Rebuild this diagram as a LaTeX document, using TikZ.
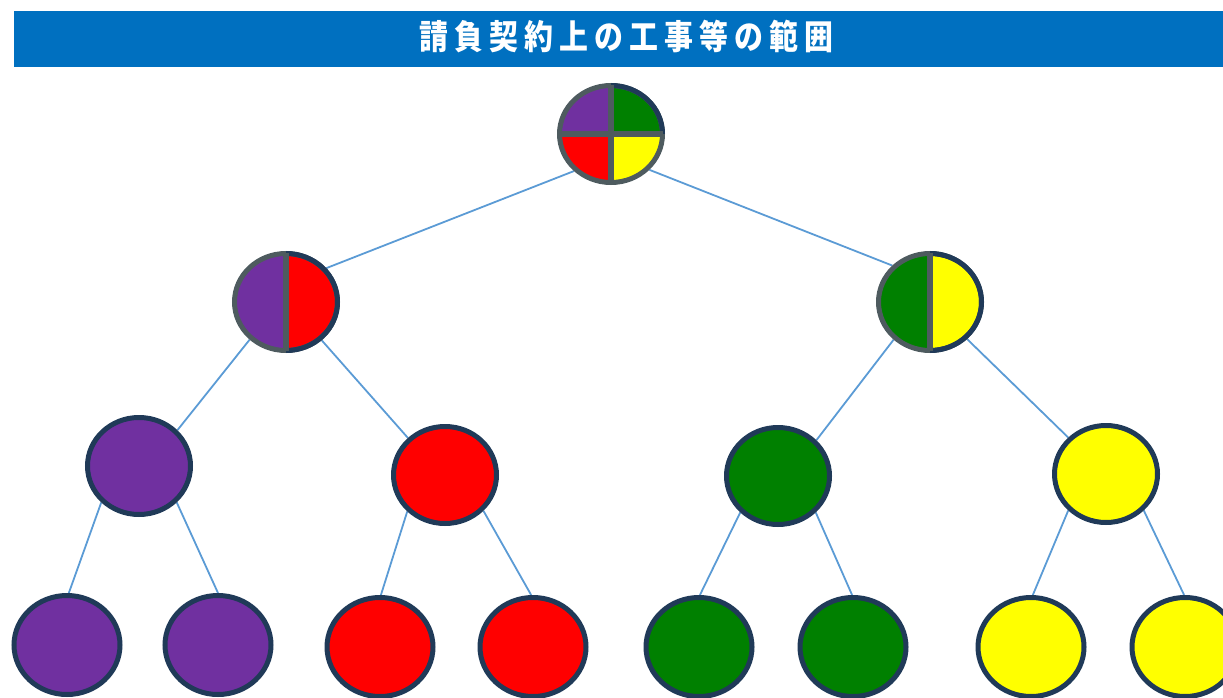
\documentclass[tikz,border=0pt]{standalone}
\usepackage{fontspec}
\newfontfamily\cjk{Noto Sans CJK JP}[FakeStretch=0.85]
\usetikzlibrary{shapes.geometric}
\pgfdeclarelayer{bg}
\pgfsetlayers{bg,main}
\definecolor{hdr}{HTML}{0070C0}
\definecolor{cpurple}{HTML}{7030A0}
\definecolor{cred}{HTML}{FF0000}
\definecolor{cgreen}{HTML}{008000}
\definecolor{cyellow}{HTML}{FFFF00}
\definecolor{navy}{HTML}{203A58}
\definecolor{ringgray}{HTML}{4E5B5F}
\definecolor{linkblue}{HTML}{5B9BD5}
\newcommand\tch[1]{\makebox[35pt][c]{#1}}
\tikzset{
  ell/.style={ellipse, inner sep=0pt, minimum width=103, minimum height=97, line width=5pt},
  ellbot/.style={ell, minimum width=106, minimum height=99},
  leaf/.style={ell, draw=navy, fill=#1},
  leafbot/.style={ellbot, draw=navy, fill=#1},
  splitnode/.style={ell, draw=ringgray},
  navyring/.style={draw=navy, line width=5pt},
  bar/.style={draw=ringgray, line width=6pt},
  link/.style={draw=linkblue, line width=1.8pt},
  title/.style={text=white, inner sep=0pt, font=\cjk\bfseries\fontsize{34}{40}\selectfont}
}
\newcommand\halfsplit[3]{%
  \begin{pgfonlayer}{bg}
    \begin{scope}
      \clip (#1.center) ellipse [x radius=51.5, y radius=48.5];
      \fill[#2] ([shift={(-60,-60)}]#1.center) rectangle ([shift={(0,60)}]#1.center);
      \fill[#3] ([shift={(0,-60)}]#1.center) rectangle ([shift={(60,60)}]#1.center);
    \end{scope}
  \end{pgfonlayer}
  \begin{scope}
    \clip ([shift={(0,-60)}]#1.center) rectangle ([shift={(60,60)}]#1.center);
    \draw[navyring] (#1.center) ellipse [x radius=51.5, y radius=48.5];
  \end{scope}
  \draw[bar] ([shift={(0,-49)}]#1.center) -- ([shift={(0,49)}]#1.center);
}
\begin{document}
\begin{tikzpicture}[x=1pt,y=-1pt]
\useasboundingbox (0,0) rectangle (1223,698);
\fill[hdr] (14,11) rectangle (1223,67);
\node[title, anchor=base] (title) at (626,50) {\tch{請}\tch{負}\tch{契}\tch{約}\tch{上}\tch{の}\tch{工}\tch{事}\tch{等}\tch{の}\tch{範}\tch{囲}};

% split nodes
\node[splitnode] (top) at (611,134) {};
\node[splitnode] (a) at (286,302) {};
\node[splitnode] (b) at (930,302) {};

% level 3
\node[leaf=cpurple] (p) at (139,466) {};
\node[leaf=cred] (r) at (445,475) {};
\node[leaf=cgreen] (g) at (778,476) {};
\node[leaf=cyellow] (y) at (1106,474) {};

% level 4
\node[leafbot=cpurple] (p1) at (67,645) {};
\node[leafbot=cpurple] (p2) at (218,645) {};
\node[leafbot=cred] (r1) at (380,647) {};
\node[leafbot=cred] (r2) at (533,647) {};
\node[leafbot=cgreen] (g1) at (699,647) {};
\node[leafbot=cgreen] (g2) at (853,647) {};
\node[leafbot=cyellow] (y1) at (1031,647) {};
\node[leafbot=cyellow] (y2) at (1185,647) {};

% top quad circle
\begin{pgfonlayer}{bg}
  \begin{scope}
    \clip (top.center) ellipse [x radius=51.5, y radius=48.5];
    \fill[cpurple] ([shift={(-60,-60)}]top.center) rectangle (top.center);
    \fill[cgreen] ([shift={(0,-60)}]top.center) rectangle ([shift={(60,0)}]top.center);
    \fill[cred] ([shift={(-60,0)}]top.center) rectangle ([shift={(0,60)}]top.center);
    \fill[cyellow] (top.center) rectangle ([shift={(60,60)}]top.center);
  \end{scope}
\end{pgfonlayer}
\begin{scope}
  \clip ([shift={(0,-60)}]top.center) rectangle ([shift={(60,0)}]top.center);
  \draw[navyring] (top.center) ellipse [x radius=51.5, y radius=48.5];
\end{scope}
\draw[bar] ([shift={(0,-49)}]top.center) -- ([shift={(0,49)}]top.center);
\draw[bar] ([shift={(-52,0)}]top.center) -- ([shift={(52,0)}]top.center);

\halfsplit{a}{cpurple}{cred}
\halfsplit{b}{cgreen}{cyellow}

% connectors
\begin{pgfonlayer}{bg}
  \draw[link] (top.225) -- (a.40);
  \draw[link] (top.317) -- (b.136);
  \draw[link] (a.226) -- (p.43);
  \draw[link] (a.313) -- (r.135);
  \draw[link] (b.226) -- (g.43);
  \draw[link] (b.315) -- (y.136);
  \draw[link] (p.224) -- (p1.88);
  \draw[link] (p.316) -- (p2.90);
  \draw[link] (r.224) -- (r1.89);
  \draw[link] (r.317) -- (r2.92);
  \draw[link] (g.224) -- (g1.89);
  \draw[link] (g.316) -- (g2.91);
  \draw[link] (y.224) -- (y1.88);
  \draw[link] (y.316) -- (y2.91);
\end{pgfonlayer}
\end{tikzpicture}
\end{document}
